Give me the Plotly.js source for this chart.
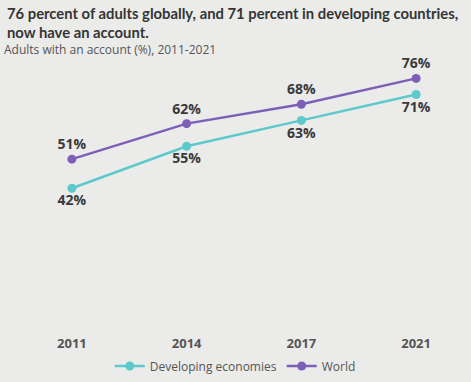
<!DOCTYPE html>
<html>
<head>
<meta charset="utf-8">
<script src="https://cdn.plot.ly/plotly-3.0.1.min.js"></script>
<style>html,body{margin:0;padding:0;background:#ebebea;}</style>
</head>
<body>
<div id="chart" style="width:471px;height:382px;"></div>
<script>
const years = ["2011", "2014", "2017", "2021"];
const developing = [42, 55, 63, 71];
const world = [51, 62, 68, 76];
const devLabels = ["42%", "55%", "63%", "71%"];
const worldLabels = ["51%", "62%", "68%", "76%"];

const teal = "#5cc9cc";
const purple = "#7d5fb8";
const labelFont = {family: "Open Sans, sans-serif", size: 14, color: "#3a3a3a", weight: "bold"};

const traces = [
  {
    x: years, y: developing, name: "Developing economies",
    type: "scatter", mode: "lines+markers+text",
    line: {color: teal, width: 2.5}, marker: {color: teal, size: 9},
    text: devLabels, textposition: "bottom center", textfont: labelFont,
    hoverinfo: "skip", cliponaxis: false
  },
  {
    x: years, y: world, name: "World",
    type: "scatter", mode: "lines+markers+text",
    line: {color: purple, width: 2.5}, marker: {color: purple, size: 9},
    text: worldLabels, textposition: "top center", textfont: labelFont,
    hoverinfo: "skip", cliponaxis: false
  }
];

const layout = {
  width: 471, height: 382,
  paper_bgcolor: "#ebebea", plot_bgcolor: "rgba(0,0,0,0)",
  margin: {l: 26, r: 9, t: 59, b: 58, autoexpand: false},
  font: {family: "Open Sans, sans-serif", color: "#444"},
  annotations: [
    {
      text: "<b>76 percent of adults globally, and 71 percent in developing countries,</b>",
      xref: "paper", yref: "paper", x: -0.048, xanchor: "left",
      y: 1, yanchor: "middle", yshift: 46, showarrow: false,
      font: {family: "Lato, sans-serif", size: 14.8, color: "#353535"}
    },
    {
      text: "<b>now have an account.</b>",
      xref: "paper", yref: "paper", x: -0.048, xanchor: "left",
      y: 1, yanchor: "middle", yshift: 27, showarrow: false,
      font: {family: "Lato, sans-serif", size: 14.8, color: "#353535"}
    },
    {
      text: "Adults with an account (%), 2011-2021",
      xref: "paper", yref: "paper", x: -0.055, xanchor: "left",
      y: 1, yanchor: "middle", yshift: 10, showarrow: false,
      font: {family: "Open Sans, sans-serif", size: 12, color: "#555"}
    }
  ],
  xaxis: {
    type: "category", range: [-0.4, 3.4], showgrid: false, zeroline: false,
    showline: false, ticks: "", ticklabelstandoff: 10, automargin: false,
    tickfont: {family: "Open Sans, sans-serif", size: 13, color: "#555", weight: "bold"},
    fixedrange: true
  },
  yaxis: {
    range: [0, 82], showgrid: false, zeroline: false, showline: false,
    showticklabels: false, ticks: "", fixedrange: true, automargin: false
  },
  showlegend: true,
  legend: {
    orientation: "h", x: 0.48, xanchor: "center",
    yref: "container", y: 0.042, yanchor: "middle",
    font: {family: "Open Sans, sans-serif", size: 12, color: "#555"},
    bgcolor: "rgba(0,0,0,0)", itemwidth: 30
  }
};

Plotly.newPlot("chart", traces, layout, {displayModeBar: false, staticPlot: true});
</script>
</body>
</html>
